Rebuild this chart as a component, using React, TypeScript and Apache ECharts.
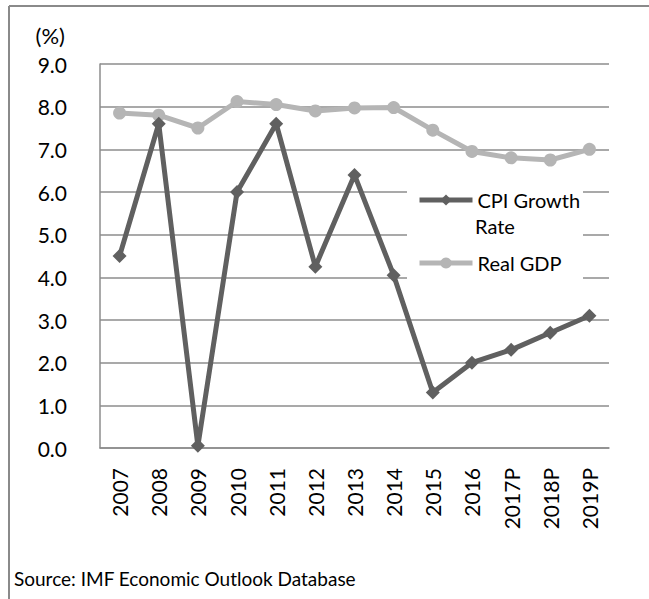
import React, { useEffect, useRef } from "react";
import * as echarts from "echarts";

const categories = ["2007", "2008", "2009", "2010", "2011", "2012", "2013", "2014", "2015", "2016", "2017P", "2018P", "2019P"];
const cpiGrowth = [4.5, 7.6, 0.05, 6.0, 7.6, 4.25, 6.4, 4.05, 1.3, 2.0, 2.3, 2.7, 3.1];
const realGdp = [7.85, 7.8, 7.5, 8.12, 8.05, 7.9, 7.97, 7.98, 7.45, 6.95, 6.8, 6.75, 7.0];
const yTicks = { min: 0, max: 9, interval: 1 };
const seriesNames = ["CPI Growth Rate", "Real GDP"];
const sourceNote = "Source: IMF Economic Outlook Database";
const unitLabel = "(%)";

const FONT = "Lato";

export default function App() {
  const ref = useRef<HTMLDivElement>(null);
  useEffect(() => {
    if (!ref.current) return;
    const chart = echarts.init(ref.current, undefined, { renderer: "svg" });
    chart.setOption({
      animation: false,
      backgroundColor: "#ffffff",
      textStyle: { fontFamily: FONT },
      grid: { left: 100, right: 40, top: 64, bottom: 151 },
      xAxis: {
        type: "category",
        data: categories,
        boundaryGap: true,
        axisLine: { show: true, lineStyle: { color: "#8c8c8c", width: 1.5 } },
        axisTick: { show: false },
        axisLabel: { rotate: 90, margin: 20, color: "#000", fontSize: 21, fontFamily: FONT },
      },
      yAxis: {
        type: "value",
        min: yTicks.min,
        max: yTicks.max,
        interval: yTicks.interval,
        name: unitLabel,
        nameLocation: "end",
        nameGap: 18,
        nameTextStyle: { color: "#000", fontSize: 22, fontFamily: FONT, align: "right", padding: [0, 35, 0, 0] },
        axisLine: { show: true, lineStyle: { color: "#8c8c8c", width: 1.5 } },
        axisTick: { show: false },
        splitLine: { show: true, lineStyle: { color: "#8c8c8c", width: 1.5 } },
        axisLabel: {
          margin: 33,
          color: "#000",
          fontSize: 21,
          fontFamily: FONT,
          formatter: (v: number) => v.toFixed(1),
        },
      },
      legend: {
        orient: "vertical",
        left: 417,
        top: 187,
        padding: 0,
        itemWidth: 53,
        itemHeight: 14,
        itemGap: 37,
        lineStyle: { width: 5 },
        textStyle: { color: "#000", fontSize: 20, fontFamily: FONT, lineHeight: 26 },
        formatter: (name: string) => (name === seriesNames[0] ? "CPI Growth" : name),
        data: [seriesNames[0], seriesNames[1]],
      },
      series: [
        {
          name: seriesNames[0],
          type: "line",
          data: cpiGrowth,
          symbol: "diamond",
          symbolSize: 14,
          lineStyle: { color: "#606060", width: 5 },
          itemStyle: { color: "#606060" },
          z: 3,
        },
        {
          name: seriesNames[1],
          type: "line",
          data: realGdp,
          symbol: "circle",
          symbolSize: 13,
          lineStyle: { color: "#b5b5b5", width: 5 },
          itemStyle: { color: "#b5b5b5" },
          z: 2,
        },
      ],
      graphic: [
        {
          type: "rect",
          z: 1,
          shape: { x: 407, y: 178, width: 176, height: 106 },
          style: { fill: "#ffffff" },
        },
        {
          type: "text",
          z: 5,
          x: 475,
          y: 226,
          style: { text: "Rate", fill: "#000", fontSize: 20, fontFamily: FONT, verticalAlign: "middle" },
        },
        { type: "line", shape: { x1: 9, y1: 6, x2: 9, y2: 599 }, style: { stroke: "#8a8a8a", lineWidth: 2 } },
        { type: "line", shape: { x1: 9, y1: 6, x2: 649, y2: 6 }, style: { stroke: "#8a8a8a", lineWidth: 2 } },
        {
          type: "text",
          left: 14,
          top: 569,
          style: { text: sourceNote, fill: "#000", fontSize: 19, fontFamily: FONT },
        },
      ],
    });
    return () => chart.dispose();
  }, []);
  return <div ref={ref} style={{ position: "fixed", left: 0, top: 0, width: 649, height: 599 }} />;
}
